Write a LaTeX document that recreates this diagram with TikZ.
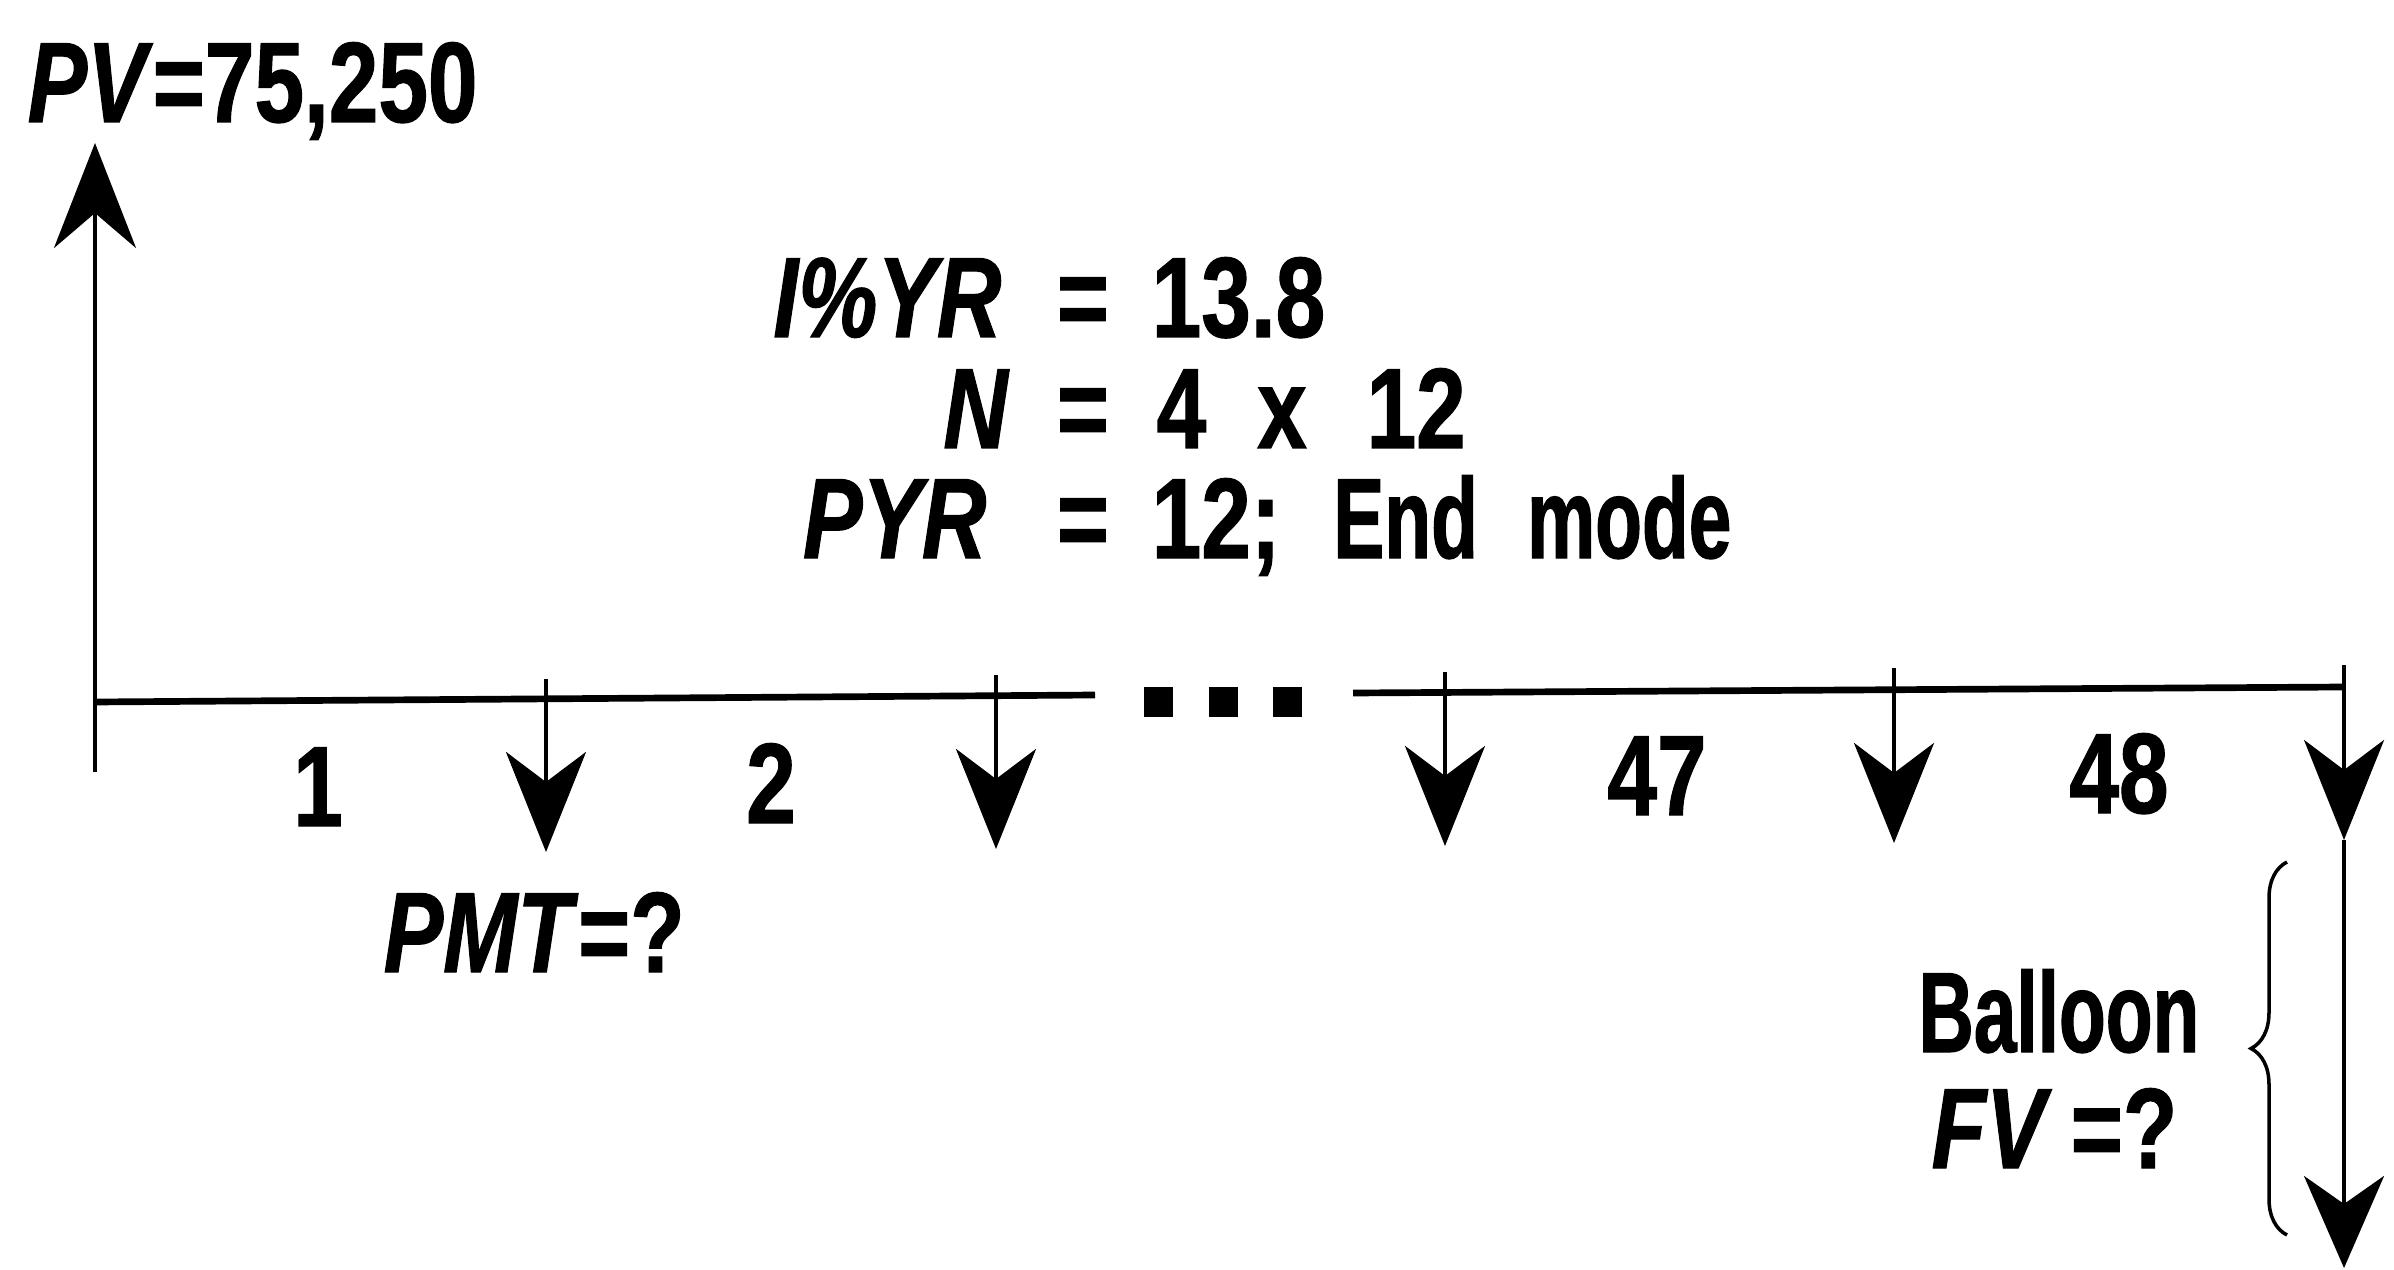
\documentclass[tikz,border=0pt]{standalone}
\usepackage{fontspec}
\setmainfont{Liberation Sans}[FakeStretch=0.78, FakeBold=1]
\newfontfamily\narrowfont{Liberation Sans}[FakeStretch=0.67, FakeBold=1]
\usetikzlibrary{arrows.meta,decorations.pathreplacing}
\begin{document}
\begin{tikzpicture}[x=0.01cm, y=-0.01cm,
  every node/.style={font=\fontsize{32.5}{38}\selectfont\bfseries, inner sep=0pt},
  axis/.style={line width=1.9pt},
  shaft/.style={line width=1.1pt},
  flow/.style={line width=1.1pt, -{Stealth[length=1.0cm, width=0.8cm, inset=0.3cm]}},
  upflow/.style={line width=1.1pt, -{Stealth[length=1.05cm, width=0.82cm, inset=0.35cm]}},
  endflow/.style={line width=1.1pt, -{Stealth[length=0.92cm, width=0.8cm, inset=0.28cm]}},
  dot/.style={fill=black, minimum width=0.29cm, minimum height=0.3cm, inner sep=0pt}]
\useasboundingbox (0,0) rectangle (2394,1270);

% labels
\node[anchor=base west] (pv) at (27,122) {\textit{PV}=75,250};

\node[anchor=base east] (l1) at (1002,337) {\textit{I\%YR}};
\node[anchor=base] (e1) at (1083,337) {=};
\node[anchor=base west] (v1) at (1151,337) {13.8};
\node[anchor=base east] (l2) at (1010,448) {\textit{N}};
\node[anchor=base] (e2) at (1083,448) {=};
\node[anchor=base west] (v2) at (1156,448) {4\hspace{14.5pt}x\hspace{17pt}12};
\node[anchor=base east] (l3) at (987,558) {\textit{PYR}};
\node[anchor=base] (e3) at (1083,558) {=};
\node[anchor=base west] (v3) at (1151,558) {12;\hspace{15pt}{\narrowfont\bfseries End\hspace{14pt}mode}};

\node[anchor=base] (n1) at (318,826) {1};
\node[anchor=base] (n2) at (771,823) {2};
\node[anchor=base] (n47) at (1657,815) {47};
\node[anchor=base] (n48) at (2119,813) {48};

\node[anchor=base west] (pmt) at (383,972) {\textit{PMT}=?};
\node[anchor=base east] (bal) at (2200,1052) {\narrowfont\bfseries Balloon};
\node[anchor=base east] (fv) at (2178,1168) {\textit{FV}\,=?};

% axis
\coordinate (o) at (95,702);
\coordinate (obot) at (95,772);
\coordinate (otop) at (95,143);
\coordinate (la) at (1095,695);
\coordinate (ra) at (1353,693);
\coordinate (e) at (2344,687);
\draw[axis] (o) -- (la);
\draw[axis] (ra) -- (e);
\node[dot] (d1) at (1158,702) {};
\node[dot] (d2) at (1223,702) {};
\node[dot] (d3) at (1287,702) {};

\draw[shaft] (obot) -- (o);
\draw[upflow] (o) -- (otop);

% payments
\foreach \x/\n/\t/\h in {546/a/679/852, 996/b/675/849, 1445/c/672/846, 1894/d/668/843, 2344/e/665/840}{
  \coordinate (t\n) at (\x,\t);
  \coordinate (h\n) at (\x,\h);
  \draw[flow] (t\n) -- (h\n);
}
\coordinate (fvend) at (2344,1268);
\draw[endflow] (he) -- (fvend);

% brace
\coordinate (bb) at (2287,1235);
\coordinate (bt) at (2287,862);
\draw[line width=1pt, decorate, decoration={brace, amplitude=0.36cm, aspect=0.5}] (bb) -- (bt);
\end{tikzpicture}
\end{document}
